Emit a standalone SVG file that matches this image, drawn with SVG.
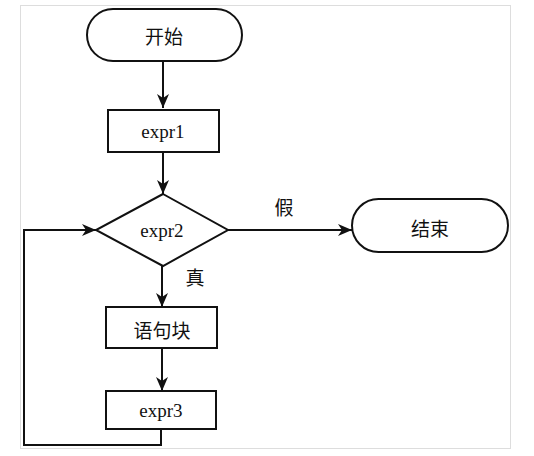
<svg xmlns="http://www.w3.org/2000/svg" width="534" height="456" viewBox="0 0 534 456">
<defs>
<style>
.n{fill:#fff;stroke:#111;stroke-width:2}
.c{fill:none;stroke:#111;stroke-width:2}
.e{font-family:"Liberation Serif",serif;font-size:19px;fill:#111;text-anchor:middle;dominant-baseline:central}
.z{font-family:"Noto Sans CJK SC",sans-serif;font-size:19px;fill:#111;text-anchor:middle;dominant-baseline:central}
</style>
<marker id="a" markerWidth="16" markerHeight="12" refX="14" refY="6" orient="auto" markerUnits="userSpaceOnUse">
<path d="M0,0 L14,6 L0,12 L4,6 Z" fill="#111"/>
</marker>
</defs>
<rect x="20.5" y="5.5" width="490" height="443" fill="#fff" stroke="#ddd" stroke-width="1"/>
<g id="connectors">
<line class="c" x1="163" y1="62" x2="163" y2="108" marker-end="url(#a)"/>
<line class="c" x1="163" y1="152" x2="163" y2="194" marker-end="url(#a)"/>
<line class="c" x1="228" y1="230" x2="352" y2="230" marker-end="url(#a)"/>
<line class="c" x1="162" y1="266" x2="162" y2="307" marker-end="url(#a)"/>
<line class="c" x1="162" y1="348" x2="162" y2="391" marker-end="url(#a)"/>
<polyline class="c" points="161,429 161,445 24,445 24,230 96,230" marker-end="url(#a)"/>
<text class="z" x="284" y="206">假</text>
<text class="z" x="195" y="276">真</text>
</g>
<g id="start">
<rect class="n" x="87" y="9" width="155" height="52" rx="26" ry="26"/>
<text class="z" x="164" y="35">开始</text>
</g>
<g id="expr1">
<rect class="n" x="108" y="110" width="111" height="42"/>
<text class="e" x="163" y="131">expr1</text>
</g>
<g id="expr2">
<polygon class="n" points="163,194 228,230 163,266 96,230"/>
<text class="e" x="162" y="230">expr2</text>
</g>
<g id="end">
<rect class="n" x="352" y="199" width="156" height="53" rx="26.5" ry="26.5"/>
<text class="z" x="430" y="227">结束</text>
</g>
<g id="block">
<rect class="n" x="106" y="307" width="111" height="41"/>
<text class="z" x="162" y="329">语句块</text>
</g>
<g id="expr3">
<rect class="n" x="106" y="391" width="110" height="38"/>
<text class="e" x="161" y="410">expr3</text>
</g>
</svg>
